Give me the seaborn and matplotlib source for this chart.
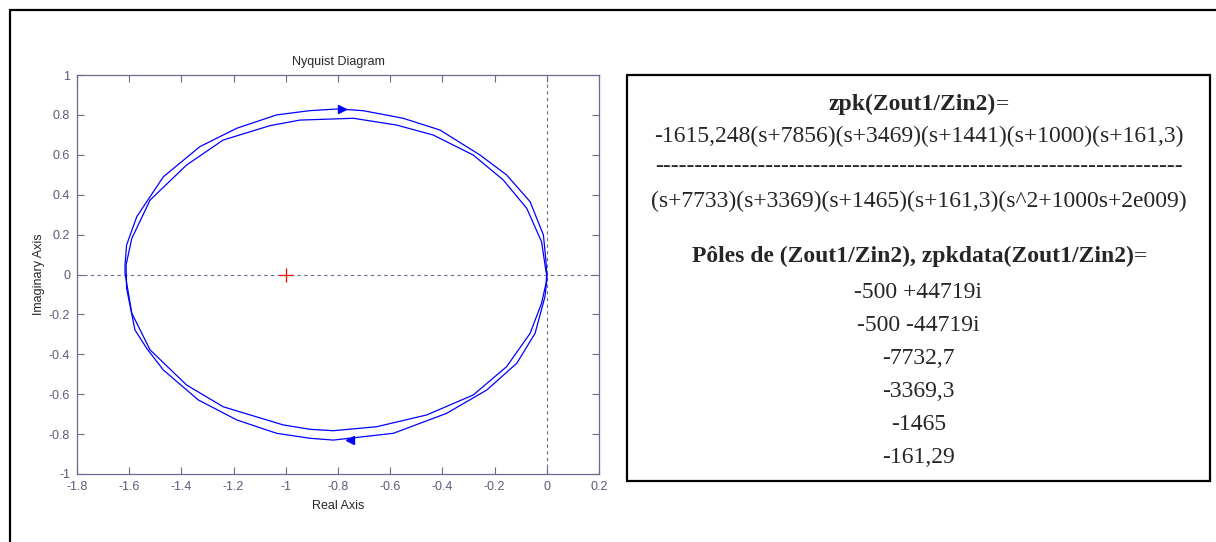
import numpy as np
import pandas as pd
import matplotlib
matplotlib.use('Agg')
import matplotlib.pyplot as plt
import seaborn as sns
from matplotlib.lines import Line2D
from matplotlib.patches import Rectangle

# DATA
# branch 1: lower inner arc (0 -> -1.6) then upper outer arc back to 0
branch1_re = [0.0, -0.003, -0.020, -0.064, -0.154, -0.282, -0.460, -0.652, -0.818, -0.907,
              -1.010, -1.240, -1.380, -1.520, -1.590, -1.616,
              -1.616, -1.610, -1.571, -1.469, -1.329, -1.188, -1.035, -0.910, -0.799, -0.703,
              -0.550, -0.409, -0.256, -0.154, -0.064, -0.013, -0.003, 0.0]
branch1_im = [0.0, -0.044, -0.144, -0.295, -0.462, -0.604, -0.704, -0.763, -0.783, -0.776,
              -0.754, -0.663, -0.554, -0.378, -0.194, 0.006,
              0.048, 0.148, 0.290, 0.490, 0.641, 0.733, 0.800, 0.821, 0.830, 0.821,
              0.783, 0.724, 0.599, 0.499, 0.365, 0.198, 0.064, 0.0]
# branch 2: upper inner arc (0 -> -1.6) then lower outer arc back to 0
branch2_re = [0.0, -0.003, -0.020, -0.077, -0.167, -0.282, -0.435, -0.575, -0.741, -0.946,
              -1.061, -1.240, -1.380, -1.520, -1.590, -1.612,
              -1.610, -1.578, -1.533, -1.469, -1.335, -1.188, -1.035, -0.907, -0.818,
              -0.588, -0.384, -0.230, -0.115, -0.045, -0.007, 0.0, 0.0]
branch2_im = [0.0, 0.014, 0.164, 0.332, 0.474, 0.599, 0.699, 0.749, 0.783, 0.774,
              0.746, 0.674, 0.549, 0.373, 0.181, 0.048,
              -0.069, -0.278, -0.370, -0.479, -0.629, -0.729, -0.796, -0.821, -0.830,
              -0.796, -0.696, -0.579, -0.445, -0.295, -0.111, -0.028, 0.0]

# direction arrows (position, marker)
arrow_re = [-0.785, -0.755]
arrow_im = [0.830, -0.830]
arrow_mk = ['>', '<']

critical_point = (-1.0, 0.0)

xticks = [-1.8, -1.6, -1.4, -1.2, -1.0, -0.8, -0.6, -0.4, -0.2, 0.0, 0.2]
yticks = [-1.0, -0.8, -0.6, -0.4, -0.2, 0.0, 0.2, 0.4, 0.6, 0.8, 1.0]

box_title = 'zpk(Zout1/Zin2)'
numerator = '-1615,248(s+7856)(s+3469)(s+1441)(s+1000)(s+161,3)'
frac_bar = '-' * 67
denominator = '(s+7733)(s+3369)(s+1465)(s+161,3)(s^2+1000s+2e009)'
poles_title = 'Pôles de (Zout1/Zin2), zpkdata(Zout1/Zin2)'
poles = ['-500 +44719i', '-500 -44719i', '-7732,7', '-3369,3', '-1465', '-161,29']

# STYLE
sns.set_style('white')
plt.rcParams['font.family'] = ['Liberation Sans', 'DejaVu Sans']

W, H = 1216, 542
fig = plt.figure(figsize=(W / 100, H / 100), dpi=100)

axis_col = '#6a6a8c'
label_col = '#5a5a7a'

ax = fig.add_axes([77 / W, 1 - 474 / H, 522 / W, 399 / H])

df1 = pd.DataFrame({'re': branch1_re, 'im': branch1_im})
df2 = pd.DataFrame({'re': branch2_re, 'im': branch2_im})
sns.lineplot(data=df1, x='re', y='im', sort=False, estimator=None, color='#0000ff', lw=0.9, ax=ax)
sns.lineplot(data=df2, x='re', y='im', sort=False, estimator=None, color='#0000ff', lw=0.9, ax=ax)

for xr, yi, mk in zip(arrow_re, arrow_im, arrow_mk):
    ax.plot(xr, yi, marker=mk, color='#0000ff', markersize=6, linestyle='none')

ax.axhline(0, color=axis_col, lw=0.8, ls=(0, (3, 3)), zorder=0)
ax.axvline(0, color=axis_col, lw=0.8, ls=(0, (3, 3)), zorder=0)
ax.plot(*critical_point, marker='+', color='red', markersize=10, mew=0.9)

ax.set_xlim(-1.8, 0.2)
ax.set_ylim(-1, 1)
ax.set_xticks(xticks)
ax.set_yticks(yticks)
ax.set_xticklabels(['%g' % t for t in xticks])
ax.set_yticklabels(['%g' % t for t in yticks])
ax.tick_params(direction='in', length=5, width=0.8, color=axis_col, labelcolor=label_col,
               labelsize=9, top=True, right=True, bottom=True, left=True, pad=5)
for sp in ax.spines.values():
    sp.set_color(axis_col)
    sp.set_linewidth(0.9)
ax.set_title('Nyquist Diagram', fontsize=9, pad=7)
ax.set_xlabel('Real Axis', fontsize=9, labelpad=5)
ax.set_ylabel('Imaginary Axis', fontsize=9, labelpad=3)

# page frame lines
fig.add_artist(Line2D([10 / W, 1], [1 - 10 / H, 1 - 10 / H], color='black', lw=1.6))
fig.add_artist(Line2D([10 / W, 10 / W], [0, 1 - 10 / H], color='black', lw=1.6))

# text box on the right
fig.add_artist(Rectangle((627 / W, 1 - 481 / H), 583 / W, 406 / H, fill=False,
                         edgecolor='black', lw=1.6, transform=fig.transFigure))

serif = ['Liberation Serif', 'DejaVu Serif']
cx = 918.5 / W
fs = 17


def fy(py):
    return 1 - py / H


# baselines (pixels from top)
t = fig.text(cx - 6 / W, fy(110), box_title, ha='center', va='baseline', fontsize=fs,
             fontweight='bold', family=serif)
ax.annotate('=', xy=(1, 0), xycoords=t, ha='left', va='bottom', fontsize=fs, family=serif)
fig.text(cx, fy(142), numerator, ha='center', va='baseline', fontsize=fs, family=serif)
fig.text(cx, fy(166), frac_bar, ha='center', va='center', fontsize=fs, family=serif)
fig.text(cx, fy(207), denominator, ha='center', va='baseline', fontsize=fs, family=serif)
t2 = fig.text(cx - 6 / W, fy(262), poles_title, ha='center', va='baseline', fontsize=fs,
              fontweight='bold', family=serif)
ax.annotate('=', xy=(1, 0), xycoords=t2, ha='left', va='bottom', fontsize=fs, family=serif)
for i, p in enumerate(poles):
    fig.text(cx, fy(298 + 33 * i), p, ha='center', va='baseline', fontsize=fs, family=serif)

fig.savefig('out.png', dpi=100)
